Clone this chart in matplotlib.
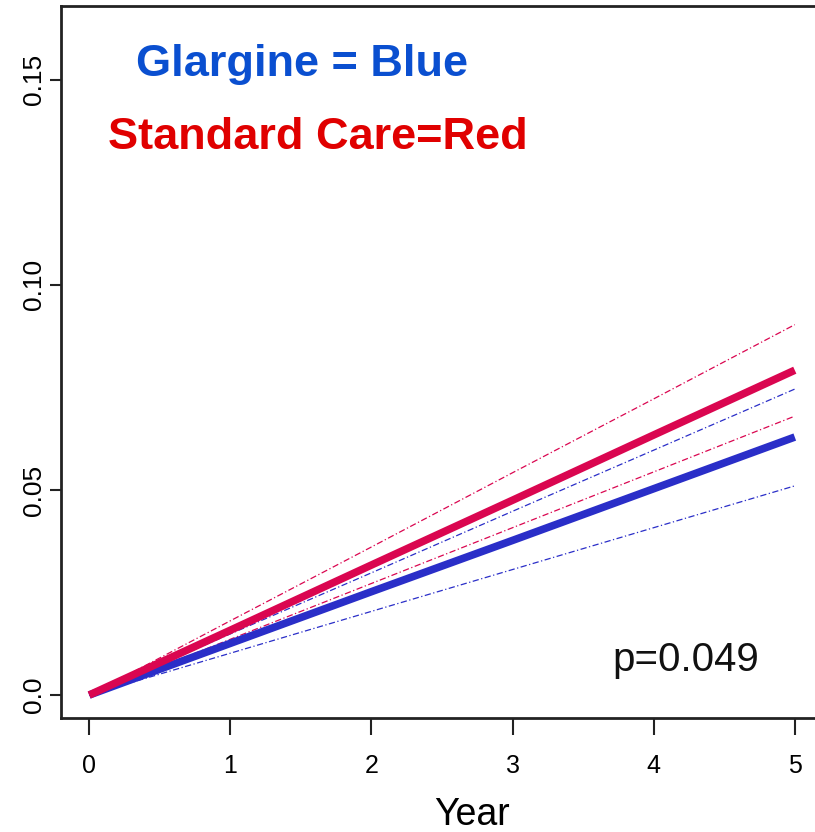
import matplotlib
matplotlib.use("Agg")
import matplotlib.pyplot as plt

years = [0, 1, 2, 3, 4, 5]
care_mean = [0.0, 0.0158, 0.0317, 0.0475, 0.0634, 0.0792]
care_upper = [0.0, 0.0181, 0.0361, 0.0542, 0.0722, 0.0903]
care_lower = [0.0, 0.0136, 0.0272, 0.0408, 0.0544, 0.0680]
glar_mean = [0.0, 0.0126, 0.0252, 0.0377, 0.0503, 0.0629]
glar_upper = [0.0, 0.0149, 0.0298, 0.0448, 0.0597, 0.0746]
glar_lower = [0.0, 0.0102, 0.0204, 0.0306, 0.0408, 0.0510]
xticks = [0, 1, 2, 3, 4, 5]
yticks = [0.0, 0.05, 0.10, 0.15]
ytick_labels = ["0.0", "0.05", "0.10", "0.15"]

plt.rcParams['font.family'] = ['Liberation Sans', 'DejaVu Sans']

fig = plt.figure(figsize=(8.15, 8.32), dpi=100)
ax = fig.add_axes([61/815, 1-718/832, (823-61)/815, 712/832])

red = '#DA0650'
blue = '#2A2EC8'
ax.plot(years, care_upper, color=red, lw=0.9, ls=(0, (5, 2, 1, 2)))
ax.plot(years, care_lower, color=red, lw=0.9, ls=(0, (5, 2, 1, 2)))
ax.plot(years, glar_upper, color=blue, lw=0.9, ls=(0, (5, 2, 1, 2)))
ax.plot(years, glar_lower, color=blue, lw=0.9, ls=(0, (5, 2, 1, 2)))
ax.plot(years, glar_mean, color=blue, lw=5.5, solid_capstyle='butt')
ax.plot(years, care_mean, color=red, lw=5.5, solid_capstyle='butt')

ax.set_xlim(-0.2, 5.2)
ax.set_ylim(-0.0056, 0.168)
ax.set_xticks(xticks)
ax.set_xticklabels([str(v) for v in xticks], fontsize=18)
ax.set_yticks(yticks)
ax.set_yticklabels(ytick_labels, fontsize=19, rotation=90, va='center')
ax.tick_params(axis='x', length=12, width=1.5, pad=14, color='#222222')
ax.tick_params(axis='y', length=8, width=1.5, pad=3, color='#222222')
for s in ax.spines.values():
    s.set_linewidth(2)
    s.set_color('#222222')

ax.set_xlabel("Year", fontsize=27)
ax.xaxis.set_label_coords((472 - 61) / 762, -(797 - 718) / 712)

ax.text(0.33, 0.1538, "Glargine = Blue", color='#0A4FD0', fontsize=32.5, fontweight='bold', ha='left', va='center')
ax.text(0.13, 0.1360, "Standard Care=Red", color='#E00000', fontsize=32.5, fontweight='bold', ha='left', va='center')
ax.text(4.23, 0.0085, "p=0.049", color='#111111', fontsize=29, ha='center', va='center')

fig.savefig("out.png", dpi=100)
